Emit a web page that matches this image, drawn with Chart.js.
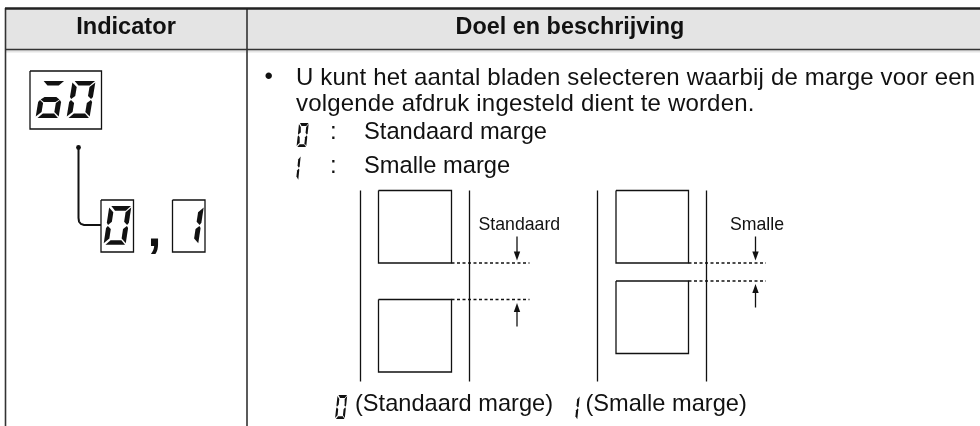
<!DOCTYPE html>
<html><head><meta charset="utf-8">
<style>html,body{margin:0;padding:0;background:#fff}canvas{display:block}</style>
<script src="https://cdn.jsdelivr.net/npm/chart.js@4"></script>
</head><body><canvas id="c" width="980" height="426"></canvas>
<script>
// ---- text ----
const headerLabels = ["Indicator", "Doel en beschrijving"];
const bodyLines = ["U kunt het aantal bladen selecteren waarbij de marge voor een", "volgende afdruk ingesteld dient te worden."];
const optionLabels = ["Standaard marge", "Smalle marge"];
const diagramLabels = ["Standaard", "Smalle"];
const captionLabels = ["(Standaard marge)", "(Smalle marge)"];

// ---- table frame (pixel-valued axes) ----
const headerBand = [[5,9],[980,9],[980,52.5],[5,52.5],[5,9]];
const frameThick = [[[5,8.5],[980,8.5]]];
const frameThin = [[[5,49.5],[980,49.5]], [[5.5,8],[5.5,426]], [[247,9],[247,426]]];

// ---- indicator boxes and connector ----
const indicatorBoxes = [[30,71,101.5,129],[101,200,133.5,252],[172.5,200,205,252]];
const connector = [[78.5,147.5],[78.5,218],[79,221.5],[81,224],[84,225],[101,225]];
const connectorDot = [[78.5,147.5]];

// ---- seven segment shapes ----
const segA = [[2,0],[22,0],[17.5,4.5],[6.5,4.5]];
const segB = [[22.5,1.5],[22.5,16],[21,18],[17.5,15],[17.5,6]];
const segC = [[22.5,21],[22.5,35.5],[17.5,31],[17.5,22],[21,19]];
const segD = [[2,37],[6.5,32.5],[17.5,32.5],[22,37]];
const segE = [[0,21],[0,35.5],[5,31],[5,22],[1.5,19]];
const segF = [[0,1.5],[0,16],[1.5,18],[5,15],[5,6]];
const segG = [[2,18.5],[5.5,16],[17,16],[20.5,18.5],[17,21],[5.5,21]];
const glyphs = {
  "0":[segA,segB,segC,segD,segE,segF],
  "1":[segB,segC],
  "a":[segA,segG,segC,segD,segE]
};
// glyph, left, top, scale x, scale y
const digits = [
  ["a",35.5,81,1.02,1],["0",66.5,81,1.02,1],["0",103.5,206,0.98,1.05],["1",176,206,0.98,1.05],
  ["0",296.5,123,0.43,0.65],["1",288.5,155.5,0.43,0.68],
  ["0",335,395,0.43,0.65],["1",567.5,395.5,0.43,0.67]
];
const SLANT = 6;

// ---- margin diagrams ----
const rails = [[360.5,190.5,381.5],[469.5,190.5,381.5],[597.5,190.5,381.5],[706.5,190.5,381.5]];
const sheets = [[378.5,190.5,451.5,263],[378.5,299.5,451.5,372],[616,190.5,688.5,263],[616,281,688.5,353.5]];
const dashes = [[451.5,529.5,263],[451.5,529.5,299.5],[688.5,766,263],[688.5,766,281]];
const arrows = [[517,236.5,260.5],[517,326.5,303],[755.5,236.5,260.5],[755.5,307.5,284]];

const INK = "#111";
function line(points, width, color, dash){
  return {type:"scatter", data:points.map(p=>({x:p[0],y:p[1]})), showLine:true, tension:0, pointRadius:0,
    borderColor:color||INK, borderWidth:width, borderDash:dash||[], fill:false, clip:false};
}
function shape(points, color){
  const closed = points.concat([points[0]]);
  return {type:"scatter", data:closed.map(p=>({x:p[0],y:p[1]})), showLine:true, tension:0, pointRadius:0,
    borderColor:color, borderWidth:0, backgroundColor:color, fill:"shape", clip:false};
}
const datasets = [];
frameThick.forEach(l=>datasets.push(line(l,2.4,"#222")));
frameThin.forEach(l=>datasets.push(line(l,1.6,"#333")));
indicatorBoxes.concat(sheets).forEach((b,i)=>datasets.push(line([[b[0],b[1]],[b[2],b[1]],[b[2],b[3]],[b[0],b[3]],[b[0],b[1]]],1.3)));
datasets.push(line(connector,2));
datasets.push({type:"scatter",data:connectorDot.map(p=>({x:p[0],y:p[1]})),pointRadius:2.4,pointBackgroundColor:INK,pointBorderWidth:0,showLine:false});
digits.forEach(d=>{
  glyphs[d[0]].forEach(seg=>{
    datasets.push(shape(seg.map(p=>[d[1]+(p[0]+SLANT*(1-p[1]/37))*d[3], d[2]+p[1]*d[4]]), "#111"));
  });
});
rails.forEach(r=>datasets.push(line([[r[0],r[1]],[r[0],r[2]]],1.3)));
dashes.forEach(d=>datasets.push(line([[d[0],d[2]],[d[1],d[2]]],1.3,INK,[3,2.5])));
arrows.forEach(a=>{
  const dir = a[2]>a[1]?1:-1;
  datasets.push(line([[a[0],a[1]],[a[0],a[2]-dir*6]],1.3));
  datasets.push(shape([[a[0],a[2]],[a[0]-3.2,a[2]-dir*9],[a[0]+3.2,a[2]-dir*9]],INK));
});
datasets.push(shape(headerBand,"#e4e4e4"));

// text: string, x, y (baseline), size, weight, align, letter spacing
const texts = [
  [headerLabels[0],126,33.5,23.6,"bold","center",0],
  [headerLabels[1],570,33.5,23.4,"bold","center",0],
  ["•",264.5,84,24,"normal","left",0],
  [bodyLines[0],296,84.5,24,"normal","left",0.18],
  [bodyLines[1],296,110.5,24,"normal","left",0.18],
  [":",330,138.5,24,"normal","left",0],
  [optionLabels[0],364,138.5,23.7,"normal","left",0],
  [":",330,173,24,"normal","left",0],
  [optionLabels[1],364,173,23.7,"normal","left",0],
  [diagramLabels[0],478.5,230,17.7,"normal","left",0],
  [diagramLabels[1],730,230,17.7,"normal","left",0],
  [captionLabels[0],355,411,23.6,"normal","left",0],
  [captionLabels[1],585.5,411,23.6,"normal","left",0],
  [",",147.5,245.5,50,"bold","left",0]
];
const textPlugin = {id:"tableText", afterDraw(chart){
  const c = chart.ctx, xs = chart.scales.x, ys = chart.scales.y;
  c.save(); c.fillStyle = INK; c.textBaseline = "alphabetic";
  texts.forEach(t=>{
    c.font = t[4]+" "+t[3]+'px "Liberation Sans", Arial, sans-serif';
    c.textAlign = t[5];
    c.letterSpacing = t[6]+"px";
    c.fillText(t[0], xs.getPixelForValue(t[1]), ys.getPixelForValue(t[2]));
  });
  c.restore();
}};
new Chart(document.getElementById("c"),{
  type:"scatter",
  data:{datasets},
  options:{responsive:false,animation:false,
    layout:{padding:0,autoPadding:false},
    events:[],
    plugins:{legend:{display:false},tooltip:{enabled:false},title:{display:false}},
    scales:{
      x:{type:"linear",min:0,max:980,display:false},
      y:{type:"linear",min:0,max:426,reverse:true,display:false}
    }
  },
  plugins:[textPlugin]
});
</script></body></html>
